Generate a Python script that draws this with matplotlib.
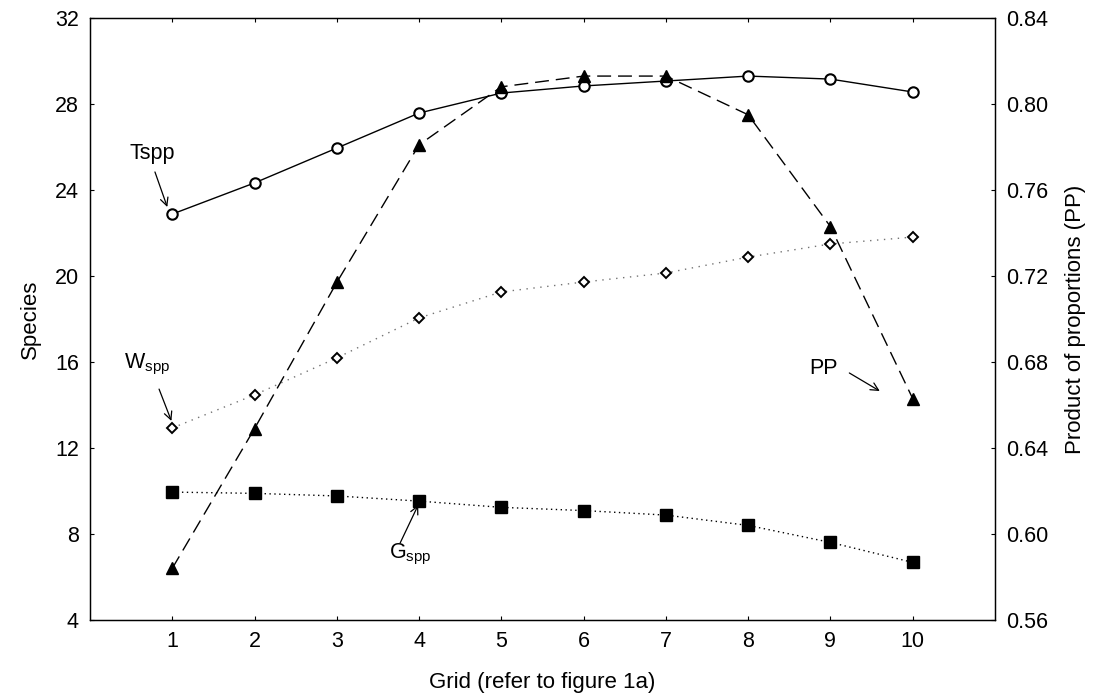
import matplotlib
matplotlib.use("Agg")
import matplotlib.pyplot as plt

plt.rcParams['font.family'] = ['Liberation Sans', 'DejaVu Sans']
plt.rcParams['mathtext.fontset'] = 'custom'
plt.rcParams['mathtext.rm'] = 'Liberation Sans'
plt.rcParams['mathtext.it'] = 'Liberation Sans'

grid = [1, 2, 3, 4, 5, 6, 7, 8, 9, 10]
tspp = [22.88, 24.33, 25.95, 27.58, 28.51, 28.84, 29.07, 29.30, 29.16, 28.56]
wspp = [12.93, 14.47, 16.19, 18.05, 19.26, 19.72, 20.14, 20.88, 21.49, 21.81]
gspp = [9.95, 9.89, 9.77, 9.53, 9.24, 9.09, 8.88, 8.40, 7.61, 6.68]
pp = [0.584, 0.649, 0.717, 0.781, 0.808, 0.813, 0.813, 0.795, 0.743, 0.663]

fig = plt.figure(figsize=(10.93, 6.96), dpi=100)
ax = fig.add_axes([0.0823, 0.1092, 0.828, 0.8649])
ax2 = ax.twinx()

ax.plot(grid, tspp, '-', color='black', lw=1.0, marker='o', ms=7.5,
        mfc='white', mec='black', mew=1.5)
ax.plot(grid, wspp, color='0.45', lw=1.0, ls=(0, (1, 4)), marker='D', ms=5.5,
        mfc='white', mec='black', mew=1.4)
ax.plot(grid, gspp, color='black', lw=1.0, ls=(0, (1, 2.5)), marker='s', ms=8,
        mfc='black', mec='black')
ax2.plot(grid, pp, color='black', lw=1.0, ls=(0, (10, 5)), marker='^', ms=8,
         mfc='black', mec='black')

ax.set_xlim(0, 11)
ax.set_ylim(4, 32)
ax2.set_ylim(0.56, 0.84)
ax.set_xticks(grid)
ax.set_yticks(range(4, 33, 4))
ax2.set_yticks([0.56 + 0.04 * i for i in range(8)])
ax2.set_yticklabels([f'{0.56 + 0.04 * i:.2f}' for i in range(8)])

for a in (ax, ax2):
    a.tick_params(direction='in', length=3, width=0.8, labelsize=15.5, pad=8)
    for s in a.spines.values():
        s.set_linewidth(0.9)
ax.tick_params(axis='x', top=True)

ax.set_xlabel('Grid (refer to figure 1a)', fontsize=16, labelpad=14)
ax.set_ylabel('Species', fontsize=16, labelpad=10)
ax2.set_ylabel('Product of proportions (PP)', fontsize=16, labelpad=12)

arrow = dict(arrowstyle='->', color='black', lw=0.9, shrinkA=0, shrinkB=0,
             mutation_scale=14)
ax.text(0.76, 25.72, 'Tspp', fontsize=15.5, ha='center', va='center')
ax.annotate('', xy=(0.94, 23.21), xytext=(0.79, 24.84), arrowprops=arrow)
ax.text(0.70, 15.9, r'W$_{\mathrm{spp}}$', fontsize=15.5, ha='center', va='center')
ax.annotate('', xy=(0.99, 13.26), xytext=(0.84, 14.74), arrowprops=arrow)
ax.text(8.92, 15.72, 'PP', fontsize=15.5, ha='center', va='center')
ax.annotate('', xy=(9.6, 14.65), xytext=(9.23, 15.49), arrowprops=arrow)
ax.text(3.89, 7.05, r'G$_{\mathrm{spp}}$', fontsize=15.5, ha='center', va='center')
ax.annotate('', xy=(3.99, 9.35), xytext=(3.77, 7.58), arrowprops=arrow)

fig.savefig('out.png', dpi=100)
